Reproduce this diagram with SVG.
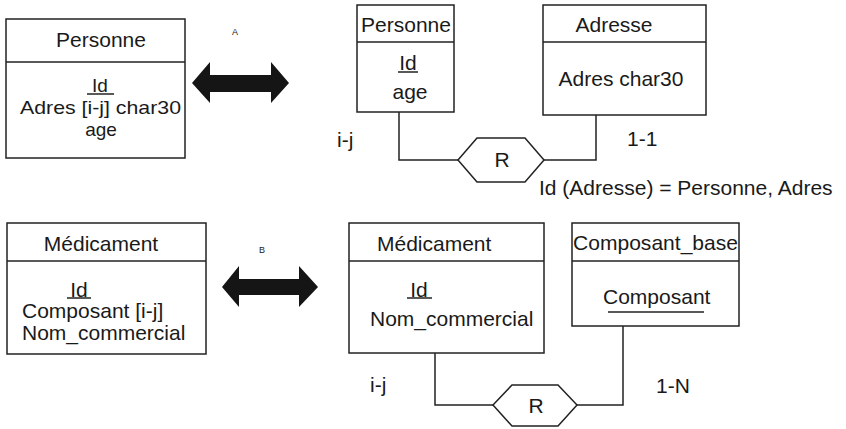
<svg xmlns="http://www.w3.org/2000/svg" width="846" height="429" viewBox="0 0 846 429">
<style>
.box{fill:none;stroke:#222;stroke-width:1.5}
.ln{fill:none;stroke:#222;stroke-width:1.5}
.t{font-family:"Liberation Sans",Arial,sans-serif;font-size:21px;fill:#1a1a1a}
.c{font-size:19px}
.m{text-anchor:middle}
.s{font-family:"Liberation Sans",Arial,sans-serif;font-size:9px;fill:#1a1a1a;text-anchor:middle}
.arr{fill:#151515}
</style>
<rect width="846" height="429" fill="#fff"/>

<g id="personne1">
<rect class="box" x="6" y="19" width="179" height="139"/>
<line class="ln" x1="6" y1="62" x2="185" y2="62"/>
<text class="t m" x="101" y="47">Personne</text>
<text class="t c m" x="100" y="92">Id</text>
<line class="ln" x1="87" y1="94" x2="114" y2="94"/>
<text class="t c" x="20" y="114" textLength="161" lengthAdjust="spacingAndGlyphs">Adres [i-j] char30</text>
<text class="t c m" x="101" y="136">age</text>
</g>

<g id="arrowA">
<polygon class="arr" points="192,83 210,62 210,75 271,75 271,62 289,83 271,103 271,92 210,92 210,103"/>
<text class="s" x="235" y="35">A</text>
</g>

<g id="personne2">
<rect class="box" x="357" y="5" width="97" height="107"/>
<line class="ln" x1="357" y1="42" x2="454" y2="42"/>
<text class="t m" x="406" y="32">Personne</text>
<text class="t m" x="408" y="70">Id</text>
<line class="ln" x1="398" y1="72" x2="418" y2="72"/>
<text class="t m" x="410" y="99">age</text>
</g>

<g id="adresse">
<rect class="box" x="543" y="5" width="163" height="110"/>
<line class="ln" x1="543" y1="42" x2="706" y2="42"/>
<text class="t m" x="614" y="32">Adresse</text>
<text class="t m" x="621" y="86">Adres char30</text>
</g>

<g id="relA">
<polygon class="box" points="458,160 477,138 525,138 544,160 525,182 477,182"/>
<text class="t m" x="502" y="167">R</text>
</g>

<g id="medicament1">
<rect class="box" x="7" y="223" width="199" height="131"/>
<line class="ln" x1="7" y1="261" x2="206" y2="261"/>
<text class="t m" x="101" y="251">Médicament</text>
<text class="t m" x="79" y="297">Id</text>
<line class="ln" x1="67" y1="298" x2="91" y2="298"/>
<text class="t" x="22" y="318">Composant [i-j]</text>
<text class="t" x="22" y="340">Nom_commercial</text>
</g>

<g id="arrowB">
<polygon class="arr" points="222,287 239,266 239,279 299,279 299,266 318,287 299,307 299,295 239,295 239,307"/>
<text class="s" x="262" y="253">B</text>
</g>

<g id="medicament2">
<rect class="box" x="349" y="223" width="195" height="130"/>
<line class="ln" x1="349" y1="261" x2="544" y2="261"/>
<text class="t" x="377" y="251">Médicament</text>
<text class="t m" x="419" y="297">Id</text>
<line class="ln" x1="407" y1="298" x2="432" y2="298"/>
<text class="t" x="370" y="326">Nom_commercial</text>
</g>

<g id="composant_base">
<rect class="box" x="572" y="223" width="167" height="103"/>
<line class="ln" x1="572" y1="261" x2="739" y2="261"/>
<text class="t" x="573" y="250" textLength="165" lengthAdjust="spacingAndGlyphs">Composant_base</text>
<text class="t" x="603" y="304">Composant</text>
<line class="ln" x1="608" y1="312" x2="704" y2="312"/>
</g>

<g id="relB">
<polygon class="box" points="493,405 512,385 558,385 577,405 558,426 512,426"/>
<text class="t m" x="536" y="413">R</text>
</g>

<g id="connectors">
<polyline class="ln" points="399,112 399,160 458,160"/>
<polyline class="ln" points="544,160 596,160 596,115"/>
<polyline class="ln" points="435,353 435,405 493,405"/>
<polyline class="ln" points="577,405 623,405 623,326"/>
</g>

<g id="labels">
<text class="t" x="337" y="147">i-j</text>
<text class="t" x="627" y="146">1-1</text>
<text class="t" x="539" y="195">Id (Adresse) = Personne, Adres</text>
<text class="t" x="370" y="392">i-j</text>
<text class="t" x="656" y="393">1-N</text>
</g>
</svg>
